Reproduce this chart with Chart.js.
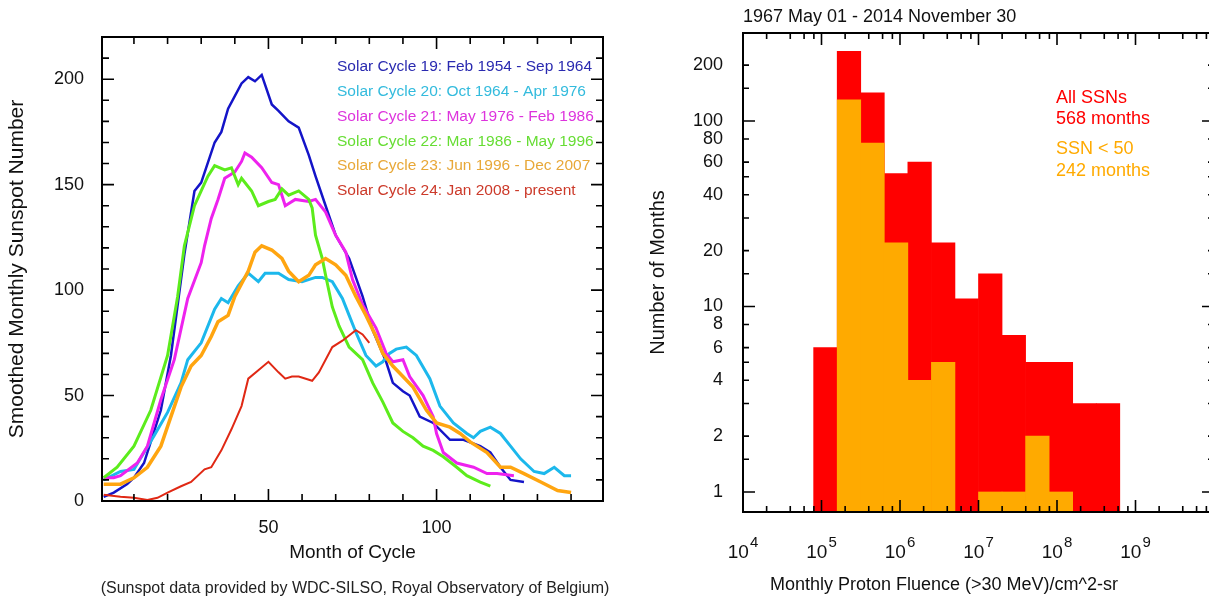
<!DOCTYPE html>
<html>
<head>
<meta charset="utf-8">
<script src="https://cdn.jsdelivr.net/npm/chart.js@4.4.1/dist/chart.umd.min.js"></script>
<style>
  body { margin: 0; width: 1209px; height: 600px; overflow: hidden; background: #fff; position: relative; }
  canvas { position: absolute; top: 0; }
  #note { position: absolute; left: 50px; width: 610px; top: 579px; text-align: center;
          font: 16px 'Liberation Sans', Arial, sans-serif; color: #222; }
</style>
</head>
<body>
<canvas id="left" width="620" height="600" style="left:0"></canvas>
<canvas id="right" width="600" height="600" style="left:620px"></canvas>
<div id="note">(Sunspot data provided by WDC-SILSO, Royal Observatory of Belgium)</div>
<script>
// ---- left panel: smoothed monthly sunspot number, [month of cycle, SSN]
const cycle19 = [[1,2],[4,4],[8,8],[10,11],[13,18],[15,28],[18,43],[21,69],[25,117],[28,147],[30,151],[34,170],[36,175],[38,186],[42,198],[44,201],[46,199],[48,202],[51,188],[53,185],[56,180],[59,177],[62,164],[64,154],[67,140],[70,126],[74,115],[78,97],[81,81],[85,66],[87,56],[90,52],[92,50],[95,40],[99,37],[104,29],[108,29],[113,26],[116,23],[119,16],[122,10],[126,9]];
const cycle20 = [[1,10],[6,14],[10,15],[13,23],[16,31],[20,42],[24,56],[26,67],[30,75],[34,91],[36,96],[38,94],[41,102],[44,108],[47,104],[49,108],[53,108],[56,105],[60,104],[64,106],[66,106],[69,104],[72,96],[74,88],[76,80],[79,69],[82,64],[84,66],[86,70],[88,72],[91,73],[94,69],[98,58],[101,45],[105,37],[109,32],[111,30],[113,33],[116,35],[119,32],[122,26],[125,20],[129,14],[132,13],[135,16],[138,12],[140,12]];
const cycle21 = [[1,11],[4,11],[6,12],[11,18],[14,26],[18,48],[22,67],[26,96],[30,113],[31,121],[33,134],[35,143],[37,153],[40,156],[42,161],[43,165],[45,163],[48,158],[51,151],[53,150],[54,145],[55,140],[58,143],[62,142],[64,143],[67,137],[70,126],[73,118],[75,105],[78,93],[82,82],[85,70],[87,66],[90,67],[92,59],[96,50],[99,40],[100,32],[102,23],[106,18],[111,16],[115,13],[118,13],[123,12]];
const cycle22 = [[1,11],[5,16],[10,26],[15,43],[20,69],[23,97],[25,121],[28,140],[30,147],[32,154],[34,159],[37,157],[39,158],[41,150],[42,153],[45,147],[47,140],[50,142],[52,143],[54,148],[56,145],[59,147],[62,143],[63,139],[64,126],[66,115],[67,107],[69,92],[71,83],[74,73],[78,67],[81,56],[84,47],[87,37],[90,33],[93,30],[96,26],[99,24],[102,21],[106,16],[109,12],[113,9],[116,7]];
const cycle23 = [[1,8],[6,8],[10,11],[14,16],[18,26],[21,40],[24,54],[27,64],[30,69],[33,78],[35,85],[38,88],[40,97],[44,109],[46,118],[48,121],[51,119],[54,115],[56,109],[59,104],[62,107],[64,112],[67,115],[70,112],[73,107],[76,97],[79,88],[82,78],[84,70],[87,64],[90,59],[93,54],[97,43],[100,37],[104,35],[107,32],[110,28],[115,23],[119,16],[122,16],[126,13],[131,9],[136,5],[140,4]];
const cycle24 = [[1,3],[6,2],[10,1.5],[14,0.5],[17,1.5],[20,4],[24,7],[27,9],[31,15],[33,16],[36,24],[39,34],[42,45],[44,58],[47,62],[50,66],[53,61],[55,58],[57,59],[59,59],[63,57],[65,61],[69,73],[72,76],[76,81],[78,79],[80,75]];

const cycleNames = [
  'Solar Cycle 19: Feb 1954 - Sep 1964',
  'Solar Cycle 20: Oct 1964 - Apr 1976',
  'Solar Cycle 21: May 1976 - Feb 1986',
  'Solar Cycle 22: Mar 1986 - May 1996',
  'Solar Cycle 23: Jun 1996 - Dec 2007',
  'Solar Cycle 24: Jan 2008 - present'
];
const cycleData = [cycle19, cycle20, cycle21, cycle22, cycle23, cycle24];
const lineColors = ['#1414c8', '#1cb8ec', '#ee22ee', '#5cec1c', '#ffa510', '#e02814'];
const textColors = ['#2a2ab0', '#33bbdd', '#dd33dd', '#66dd33', '#e8a838', '#cc3a2a'];
const lineWidths = [2.5, 3, 3, 3, 3.5, 2];

const leftXLabels = [50, 100];
const leftYLabels = [0, 50, 100, 150, 200];

// ---- right panel: histogram of monthly proton fluence
const binStartExp = [4.9, 5.2, 5.5, 5.8, 6.1, 6.4, 6.7, 7.0, 7.3, 7.6, 7.9, 8.2, 8.5];
const allSsnMonths = [6, 237, 142, 52, 60, 22, 11, 15, 7, 5, 5, 3, 3];
const lowSsnMonths = [null, 130, 76, 22, 4, 5, null, 1, 1, 2, 1, null, null];
const fluenceDecades = [4, 5, 6, 7, 8, 9];
const rightYLabels = [1, 2, 4, 6, 8, 10, 20, 40, 60, 80, 100, 200];
const rightYMinor = [1.5, 3, 5, 15, 30, 50, 150];

const FONT = "'Liberation Sans', Arial, Helvetica, sans-serif";
Chart.defaults.font.family = FONT;
Chart.defaults.color = '#111';

// frame with inward tick marks on all four sides
const frameTicks = {
  id: 'frameTicks',
  afterDatasetsDraw(chart, args, opts) {
    const {ctx, chartArea: a, scales: {x, y}} = chart;
    ctx.save();
    ctx.strokeStyle = '#000';
    ctx.lineWidth = 1.6;
    ctx.beginPath();
    opts.xTicks.forEach(([v, len]) => {
      const px = x.getPixelForValue(v);
      ctx.moveTo(px, a.bottom); ctx.lineTo(px, a.bottom - len);
      ctx.moveTo(px, a.top); ctx.lineTo(px, a.top + len);
    });
    opts.yTicks.forEach(([v, len]) => {
      const py = y.getPixelForValue(v);
      ctx.moveTo(a.left, py); ctx.lineTo(a.left + len, py);
      ctx.moveTo(a.right, py); ctx.lineTo(a.right - len, py);
    });
    ctx.stroke();
    ctx.lineWidth = 2;
    ctx.strokeRect(a.left, a.top, a.right - a.left, a.bottom - a.top);
    ctx.restore();
  }
};

const cycleLegend = {
  id: 'cycleLegend',
  afterDraw(chart) {
    const ctx = chart.ctx;
    ctx.save();
    ctx.font = '15.5px ' + FONT;
    ctx.textBaseline = 'middle';
    cycleNames.forEach((name, i) => {
      ctx.fillStyle = textColors[i];
      ctx.fillText(name, 337, 67 + i * 24.8);
    });
    ctx.restore();
  }
};

const leftXTicks = [];
for (let m = 10; m <= 140; m += 10) leftXTicks.push([m, m % 50 === 0 ? 12 : 7]);
const leftYTicks = [];
for (let v = 10; v <= 210; v += 10) leftYTicks.push([v, v % 50 === 0 ? 12 : 7]);

new Chart(document.getElementById('left'), {
  type: 'line',
  data: {
    datasets: cycleData.map((c, i) => ({
      label: cycleNames[i],
      data: c.map(([m, v]) => ({x: m, y: v})),
      borderColor: lineColors[i],
      backgroundColor: lineColors[i],
      borderWidth: lineWidths[i],
      pointRadius: 0,
      tension: 0,
      order: 6 - i
    }))
  },
  options: {
    responsive: false,
    animation: false,
    devicePixelRatio: 1,
    layout: {padding: {left: 0, top: 37, right: 17, bottom: 0}},
    plugins: {
      legend: {display: false},
      tooltip: {enabled: false},
      frameTicks: {xTicks: leftXTicks, yTicks: leftYTicks}
    },
    scales: {
      x: {
        type: 'linear', min: 0.5, max: 149.5, bounds: 'data',
        grid: {display: false, drawTicks: false}, border: {display: false},
        afterBuildTicks: s => { s.ticks = leftXLabels.map(v => ({value: v})); },
        ticks: {font: {size: 18}, color: '#111', padding: 16, maxRotation: 0},
        title: {display: true, text: 'Month of Cycle', font: {size: 19}, color: '#111', padding: {top: 0, bottom: 36}},
        afterFit: s => { s.height = 99; }
      },
      y: {
        min: 0, max: 220, bounds: 'data',
        grid: {display: false, drawTicks: false}, border: {display: false},
        afterBuildTicks: s => { s.ticks = leftYLabels.map(v => ({value: v})); },
        ticks: {font: {size: 18}, color: '#111', padding: 18},
        title: {display: true, text: 'Smoothed Monthly Sunspot Number', font: {size: 21}, color: '#111', padding: {top: 5, bottom: 0}},
        afterFit: s => { s.width = 102; }
      }
    }
  },
  plugins: [frameTicks, cycleLegend]
});

// right panel
const decadeLabels = {
  id: 'decadeLabels',
  afterDraw(chart) {
    const {ctx, scales: {x}} = chart;
    ctx.save();
    ctx.fillStyle = '#111';
    ctx.textBaseline = 'alphabetic';
    fluenceDecades.forEach(e => {
      const px = x.getPixelForValue(Math.pow(10, e));
      ctx.font = '19px ' + FONT;
      const w1 = ctx.measureText('10').width;
      ctx.font = '15px ' + FONT;
      const w2 = ctx.measureText(String(e)).width;
      const x0 = px - (w1 + w2 + 1) / 2;
      ctx.font = '19px ' + FONT;
      ctx.fillText('10', x0, 558);
      ctx.font = '15px ' + FONT;
      ctx.fillText(String(e), x0 + w1 + 1, 547);
    });
    // titles and annotations
    ctx.font = '18px ' + FONT;
    ctx.textBaseline = 'middle';
    ctx.fillText('1967 May 01 - 2014 November 30', 123, 17);
    ctx.textAlign = 'center';
    ctx.fillText('Monthly Proton Fluence (>30 MeV)/cm^2-sr', 324, 585);
    ctx.textAlign = 'left';
    ctx.font = '18px ' + FONT;
    ctx.fillStyle = '#ff0000';
    ctx.fillText('All SSNs', 436, 98);
    ctx.fillText('568 months', 436, 119);
    ctx.fillStyle = '#ffaa00';
    ctx.fillText('SSN < 50', 436, 149);
    ctx.fillText('242 months', 436, 171);
    ctx.restore();
  }
};

const rightXTicks = [];
for (let e = 4; e <= 10; e++) {
  rightXTicks.push([Math.pow(10, e), 12]);
  if (e < 10) [2, 4, 6, 8].forEach(k => rightXTicks.push([k * Math.pow(10, e), 6]));
}
const rightYTicks = rightYLabels.concat(rightYMinor).map(v => [v, (v === 1 || v === 10 || v === 100) ? 12 : 6]);

const binCenter = e => Math.pow(10, e + 0.15);

new Chart(document.getElementById('right'), {
  type: 'bar',
  data: {
    datasets: [
      {
        label: 'SSN < 50',
        data: binStartExp.map((e, i) => ({x: binCenter(e), y: lowSsnMonths[i]})),
        backgroundColor: '#ffaa00',
        order: 1
      },
      {
        label: 'All SSNs',
        data: binStartExp.map((e, i) => ({x: binCenter(e), y: allSsnMonths[i]})),
        backgroundColor: '#ff0000',
        order: 2
      }
    ]
  },
  options: {
    responsive: false,
    animation: false,
    devicePixelRatio: 1,
    layout: {padding: {left: 0, top: 33, right: 6, bottom: 0}},
    datasets: {bar: {grouped: false, barPercentage: 1, categoryPercentage: 1, borderWidth: 0}},
    plugins: {
      legend: {display: false},
      tooltip: {enabled: false},
      frameTicks: {xTicks: rightXTicks, yTicks: rightYTicks}
    },
    scales: {
      x: {
        type: 'logarithmic', min: 1e4, max: 1e10, bounds: 'data',
        grid: {display: false, drawTicks: false}, border: {display: false},
        afterBuildTicks: s => { s.ticks = [4, 5, 6, 7, 8, 9, 10].map(e => ({value: Math.pow(10, e)})); },
        ticks: {display: false},
        afterFit: s => { s.height = 88; }
      },
      y: {
        type: 'logarithmic', min: 0.78, max: 298, bounds: 'data',
        grid: {display: false, drawTicks: false}, border: {display: false},
        afterBuildTicks: s => { s.ticks = rightYLabels.map(v => ({value: v})); },
        ticks: {font: {size: 18}, color: '#111', padding: 20, autoSkip: false, callback: v => String(v)},
        title: {display: true, text: 'Number of Months', font: {size: 20}, color: '#111', padding: {top: 26, bottom: 0}},
        afterFit: s => { s.width = 123; }
      }
    }
  },
  plugins: [frameTicks, decadeLabels]
});
</script>
</body>
</html>
